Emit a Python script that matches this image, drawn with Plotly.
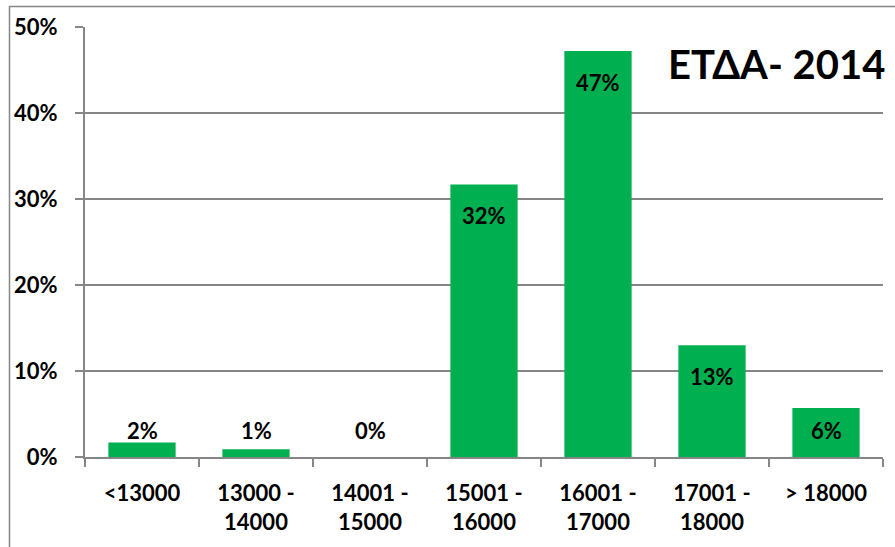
import plotly.graph_objects as go

categories = ["<13000", "13000 -<br>14000", "14001 -<br>15000", "15001 -<br>16000",
              "16001 -<br>17000", "17001 -<br>18000", "> 18000"]
values = [1.7, 0.9, 0.0, 31.7, 47.2, 13.0, 5.7]
labels = ["2%", "1%", "0%", "32%", "47%", "13%", "6%"]
title_text = "ΕΤΔΑ- 2014"

FONT = "Lato"
GRAY = "#868686"
GREEN = "#00B050"

fig = go.Figure()
fig.add_trace(go.Bar(x=categories, y=values, marker=dict(color=GREEN, line=dict(width=0)),
                     hoverinfo="skip"))

# data labels: inside end for tall bars, floor level for short ones
for c, v, t in zip(categories, values, labels):
    fig.add_annotation(x=c, y=max(v - 3.6, 3.14), text=t, showarrow=False,
                       xref="x", yref="y",
                       font=dict(family=FONT, size=22, color="black", weight="bold"))

fig.add_annotation(x=0.867, y=0.914, xref="paper", yref="paper", text=title_text,
                   xanchor="center", yanchor="middle",
                   showarrow=False, font=dict(family=FONT, size=40, color="black", weight="bold"))

# outer chart border (cropped at right/bottom)
fig.add_shape(type="rect", xref="paper", yref="paper", x0=-0.0946, y0=-0.4, x1=1.1, y1=1.0477,
              line=dict(color=GRAY, width=1.5), layer="below")

fig.update_layout(
    width=895, height=547,
    margin=dict(l=85, r=12, t=27, b=90),
    paper_bgcolor="white", plot_bgcolor="white",
    bargap=0.41, showlegend=False,
    font=dict(family=FONT, size=22, color="black"),
)
fig.update_xaxes(type="category", showline=True, linecolor=GRAY, linewidth=2,
                 ticks="outside", tickson="boundaries", ticklen=8, tickcolor=GRAY, tickwidth=2,
                 tickfont=dict(family=FONT, size=22, color="black", weight="bold"),
                 showgrid=False, ticklabelstandoff=16)
fig.update_yaxes(range=[0, 50], dtick=10, ticksuffix="%", showline=True, linecolor=GRAY, linewidth=2,
                 ticks="outside", ticklen=8, tickcolor=GRAY, tickwidth=2,
                 showgrid=True, gridcolor=GRAY, gridwidth=2, zeroline=False,
                 tickfont=dict(family=FONT, size=22, color="black", weight="bold"),
                 ticklabelstandoff=13)

fig.write_html("out.html", config={"displayModeBar": False},
               post_script="document.body.style.margin='0';document.body.style.overflow='hidden';")
